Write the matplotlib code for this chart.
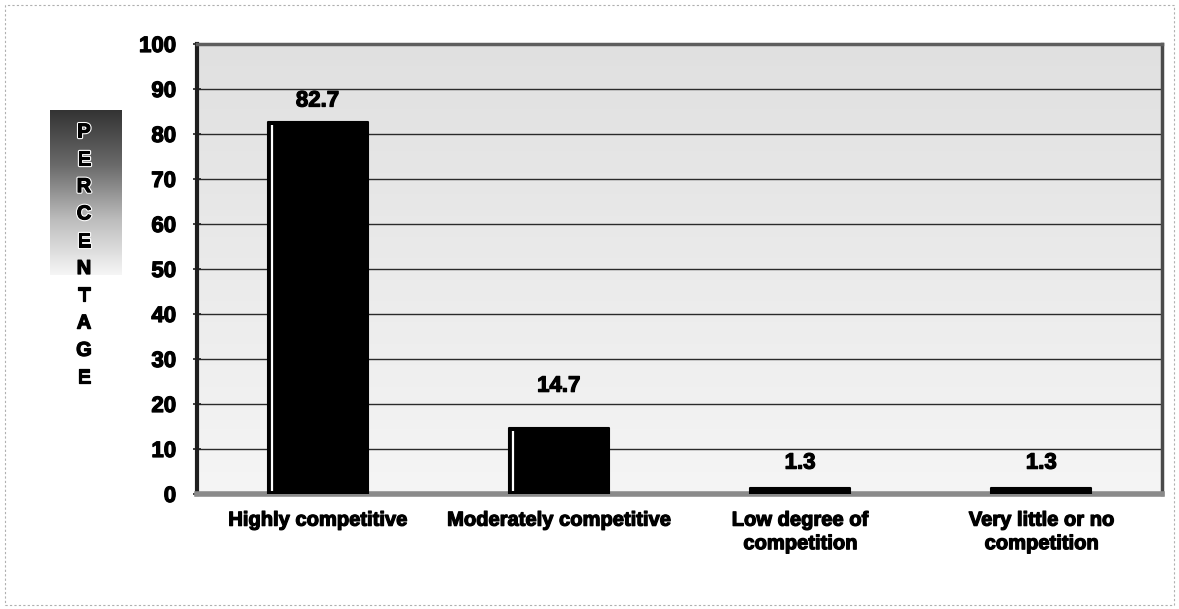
import matplotlib
matplotlib.use("Agg")
import matplotlib.pyplot as plt
import numpy as np
from matplotlib import patheffects as pe
from matplotlib.patches import Rectangle

categories = ["Highly competitive", "Moderately competitive",
              "Low degree of\ncompetition", "Very little or no\ncompetition"]
percentages = [82.7, 14.7, 1.3, 1.3]
value_labels = ["82.7", "14.7", "1.3", "1.3"]
y_ticks = [0, 10, 20, 30, 40, 50, 60, 70, 80, 90, 100]
axis_letters = list("PERCENTAGE")

# vertical offsets (points) for the value labels above each bar
label_offsets = [15, 30, 18, 18]

plt.rcParams["font.family"] = ["Liberation Sans", "DejaVu Sans"]
plt.rcParams["font.weight"] = "bold"

heavy = [pe.withStroke(linewidth=0.9, foreground="black")]

fig = plt.figure(figsize=(11.79, 6.09), dpi=100)
fig.patch.set_facecolor("white")

# thin frame around the whole chart
fig.add_artist(Rectangle((0.004, 0.006), 0.992, 0.986, transform=fig.transFigure,
                         fill=False, edgecolor="#b0b0b0", linewidth=0.8,
                         linestyle=(0, (2, 2))))

ax = fig.add_axes([197 / 1179, 1 - 494 / 609, 965 / 1179, 450 / 609])

# soft grey backdrop, slightly darker towards the top
grad = np.linspace(0.0, 1.0, 256).reshape(-1, 1)
ax.imshow(grad, extent=[-0.5, 3.5, 0, 100], aspect="auto", origin="lower",
          cmap=matplotlib.colors.LinearSegmentedColormap.from_list(
              "bg", ["#f5f5f5", "#e0e0e0"]), zorder=0)

x = np.arange(len(categories))
width = 0.415
ax.set_xlim(-0.5, 3.5)
ax.set_ylim(0, 100)

for yv in y_ticks[1:-1]:
    ax.axhline(yv, color="#2a2a2a", linewidth=1.0, zorder=1)

bars = ax.bar(x, percentages, width=width, color="black", edgecolor="black",
              linewidth=1.5, zorder=3)
for b in bars:
    b.set_joinstyle("round")

# light highlight stripe along the left edge of each bar
for xi, v in zip(x, percentages):
    if v > 3:
        ax.plot([xi - width / 2 + 0.018] * 2, [0.6, v - 0.6], color="white",
                linewidth=1.6, zorder=4, solid_capstyle="butt")

for xi, v, lab, off in zip(x, percentages, value_labels, label_offsets):
    ax.annotate(lab, (xi, v), xytext=(0, off), textcoords="offset points",
                ha="center", va="center", fontsize=16, fontweight="bold",
                color="black", zorder=5, path_effects=heavy)

ax.set_yticks(y_ticks)
ax.set_yticklabels([str(t) for t in y_ticks], fontsize=16, fontweight="bold")
ax.set_xticks(x)
ax.set_xticklabels(categories, fontsize=14.5, fontweight="bold",
                   linespacing=1.3, va="top")
for t in ax.get_xticklabels() + ax.get_yticklabels():
    t.set_path_effects(heavy)
ax.tick_params(axis="x", length=0, pad=12)
ax.tick_params(axis="y", direction="inout", length=6, width=1.2,
               color="#222222", pad=12)

ax.spines["left"].set_linewidth(3.0)
ax.spines["left"].set_color("#1e1e1e")
ax.spines["bottom"].set_linewidth(4.0)
ax.spines["bottom"].set_color("#8a8a8a")
ax.spines["top"].set_linewidth(2.5)
ax.spines["top"].set_color("#5e5e5e")
ax.spines["right"].set_linewidth(2.5)
ax.spines["right"].set_color("#4a4a4a")

# shaded panel behind the vertical axis title
pax = fig.add_axes([50 / 1179, 1 - 275 / 609, 72 / 1179, 165 / 609])
shade = np.linspace(0, 1, 256).reshape(-1, 1)
pax.imshow(shade, aspect="auto", origin="upper",
           cmap=matplotlib.colors.LinearSegmentedColormap.from_list(
               "panel", ["#333333", "#6a6a6a", "#bdbdbd", "#f6f6f6"]),
           extent=[0, 1, 0, 1])
pax.set_axis_off()

top_y = 1 - 132 / 609
step = 27.3 / 609
for i, ch in enumerate(axis_letters):
    t = fig.text(84 / 1179, top_y - i * step, ch, ha="center", va="center",
                 fontsize=14.5, fontweight="bold", color="black")
    if i < 5:
        t.set_path_effects([pe.withStroke(linewidth=2.4, foreground="white"),
                            pe.withStroke(linewidth=0.8, foreground="black")])
    else:
        t.set_path_effects(heavy)

fig.savefig("out.png", dpi=100)
